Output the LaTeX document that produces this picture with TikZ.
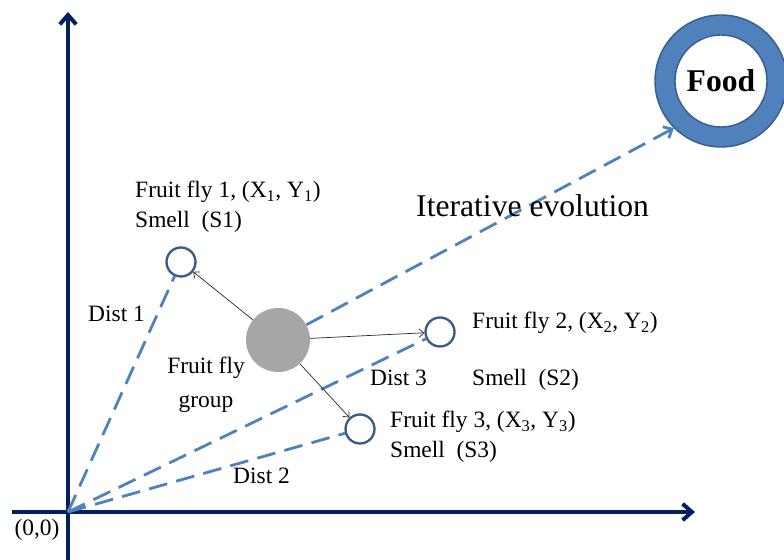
\documentclass[tikz,border=0pt]{standalone}
\usepackage{fontspec}
\setmainfont{Liberation Serif}
\usetikzlibrary{arrows.meta,positioning}
\definecolor{axisnavy}{RGB}{0,32,96}
\definecolor{dashblue}{RGB}{79,129,189}
\definecolor{ringedge}{RGB}{56,93,138}
\definecolor{groupgray}{RGB}{166,166,166}
\tikzset{
  fly/.style={circle,draw=ringedge,line width=2pt,fill=white,minimum size=0.87cm,inner sep=0pt},
  lbl/.style={font=\fontsize{20}{24}\selectfont,inner sep=0pt,anchor=west},
  distline/.style={dashblue,line width=2.4pt,dash pattern=on 16pt off 8pt},
  move/.style={-{Straight Barb[length=4pt,width=7pt]},line width=0.6pt,black!85},
  axis/.style={axisnavy,line width=3.4pt,-{Straight Barb[length=8pt,width=14pt]}}
}
\begin{document}
\begin{tikzpicture}[x=0.03cm,y=0.03cm]
        \useasboundingbox (0,0) rectangle (784,560);
        % axes
        \coordinate (origin) at (68,48);
        \coordinate (xstart) at (12,48);
        \coordinate (xend) at (695,48);
        \coordinate (ystart) at (68,0);
        \coordinate (yend) at (68,548);
        \draw[axis] (xstart) -- (xend);
        \draw[axis] (ystart) -- (yend);
        \node[font=\fontsize{20}{24}\selectfont,inner sep=0pt] (zero) at (37,30) {(0,0)};
        % flies and food
        \node[fly] (fly1) at (181,298) {};
        \node[fly] (fly2) at (440,228) {};
        \node[fly] (fly3) at (360,131) {};
        \node[circle,fill=groupgray,minimum size=1.92cm,inner sep=0pt] (group) at (278,220) {};
        \node[circle,draw=ringedge,line width=1.2pt,fill=dashblue,minimum size=3.96cm] (food) at (721,479) {};
        \node[circle,draw=ringedge,line width=1.2pt,fill=white,minimum size=2.76cm,
              font=\bfseries\fontsize{27}{30}\selectfont,inner sep=0pt] (foodin) at (food) {Food};
        % distances
        \draw[distline] (origin) -- (fly1);
        \draw[distline] (origin) -- (fly2);
        \draw[distline] (origin) -- (fly3);
        \draw[distline,-{Straight Barb[length=6pt,width=11pt]}] (group) -- (food.225);
        \draw[move] (group) -- (fly1);
        \draw[move] (group) -- (fly2);
        \draw[move] (group) -- (fly3);
        % labels
        \node[lbl] (name1) at (135,368) {Fruit fly 1, (X\textsubscript{1}, Y\textsubscript{1})};
        \node[lbl] (smell1) at (135,338) {Smell\ \ (S1)};
        \node[lbl] (name2) at (472,237) {Fruit fly 2, (X\textsubscript{2}, Y\textsubscript{2})};
        \node[lbl] (smell2) at (472,180) {Smell\ \ (S2)};
        \node[lbl] (name3) at (390,138) {Fruit fly 3, (X\textsubscript{3}, Y\textsubscript{3})};
        \node[lbl] (smell3) at (390,108) {Smell\ \ (S3)};
        \node[lbl] (dist1) at (88,246) {Dist 1};
        \node[lbl] (dist2) at (233,84) {Dist 2};
        \node[lbl] (dist3) at (370,182) {Dist 3};
        \node[lbl,anchor=center,align=center,font=\fontsize{20}{29}\selectfont] (grouplbl) at (206,175) {Fruit fly\\group};
        \node[lbl,font=\fontsize{27}{30}\selectfont] (iter) at (416,354) {Iterative evolution};
      \end{tikzpicture}
\end{document}
